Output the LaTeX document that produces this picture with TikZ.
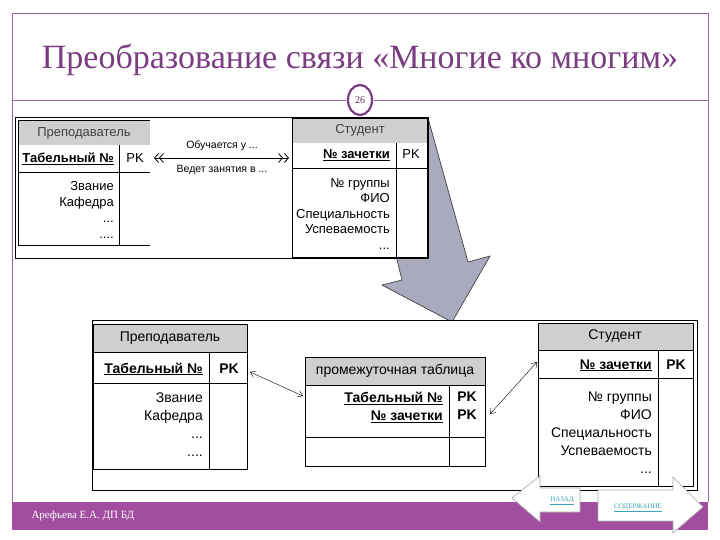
\documentclass[tikz,border=0pt]{standalone}
\usepackage{fontspec}
\setmainfont{Liberation Serif}
\newfontfamily\tabfont{Liberation Sans}
\usetikzlibrary{arrows.meta}

\definecolor{titlepurple}{HTML}{7A3D82}
\definecolor{barpurple}{HTML}{A24EA0}
\definecolor{framepurple}{HTML}{946A9A}
\definecolor{headgray}{HTML}{CFCFCF}
\definecolor{bigarrow}{HTML}{AAAABF}
\definecolor{linkcyan}{HTML}{3AA3B4}

\begin{document}
\begin{tikzpicture}[x=1pt,y=-1pt,
        smalltxt/.style={font=\tabfont\fontsize{13}{15.5}\selectfont, inner sep=0pt, align=right},
        smallkey/.style={font=\tabfont\bfseries\fontsize{13}{15.5}\selectfont, inner sep=0pt, align=right},
        bigtxt/.style={font=\tabfont\fontsize{14}{18}\selectfont, inner sep=0pt, align=right},
        bigkey/.style={font=\tabfont\bfseries\fontsize{14}{18}\selectfont, inner sep=0pt, align=right},
        tabline/.style={black, line width=0.8pt},
        link/.style={line width=0.4pt, {Straight Barb[length=5pt,width=7pt]}-{Straight Barb[length=5pt,width=7pt]}},
        navbtn/.style={fill=white, draw=black!35, line width=0.6pt}
    ]
    \useasboundingbox (0,0) rectangle (720,540);
    \fill[white] (0,0) rectangle (720,540);

    % slide frame and title
    \draw[framepurple] (12,502) -- (12,13) -- (708,13) -- (708,502);
    \draw[framepurple] (12,100) -- (346,100);
    \draw[framepurple] (374,100) -- (708,100);
    \node[font=\fontsize{34}{38}\selectfont, text=titlepurple] (title) at (360,60) {Преобразование связи «Многие ко многим»};
    \filldraw[fill=white, draw=titlepurple, line width=2.2pt] (360,100) ellipse (12 and 15);
    \node[font=\fontsize{10}{12}\selectfont, text=titlepurple!70!black] (page) at (360,100) {26};

    % footer
    \fill[barpurple] (12,502) rectangle (708,530);
    \node[anchor=west, text=white, font=\fontsize{11}{13}\selectfont] (author) at (28,516) {Арефьева Е.А. ДП БД};

    % big grey arrow, partly hidden by the top picture
    \filldraw[fill=bigarrow, draw=black!75, line width=0.7pt]
        (362,118) -- (428,118) -- (468,262) -- (490,256) -- (452,322) -- (382,285) -- (402,280) -- cycle;

    % top picture
    \filldraw[fill=white, draw=black, line width=0.8pt] (15,117) rectangle (428,258);

    \fill[headgray] (18,120) rectangle (150,145);
    \draw[tabline] (150,120) -- (18,120) -- (18,245) -- (150,245);
    \draw[tabline] (18,172) -- (150,172);
    \draw[tabline] (119,145) -- (119,245);
    \node[smalltxt, text=black!75] (prepA) at (84,133) {Преподаватель};
    \node[smallkey, anchor=base east] (tabA) at (114,163) {\underline{Табельный №}};
    \node[smalltxt, anchor=base] (pkA) at (135,163) {PK};
    \node[smalltxt, anchor=north east, font=\tabfont\fontsize{13}{16}\selectfont] (prepBodyA) at (114,181) {Звание\\Кафедра\\...\\....};

    \fill[headgray] (292,118) rectangle (427,143);
    \draw[tabline] (292,118) rectangle (427,257);
    \draw[tabline] (292,168) -- (427,168);
    \draw[tabline] (396,143) -- (396,257);
    \node[smalltxt, text=black!75] (studA) at (360,130) {Студент};
    \node[smallkey, anchor=base east] (zachA) at (390,159) {\underline{№ зачетки}};
    \node[smalltxt, anchor=base] (pkB) at (411,159) {PK};
    \node[smalltxt, anchor=north east] (studBodyA) at (390,178) {№ группы\\ФИО\\Специальность\\Успеваемость\\...};

    \coordinate (obL) at (153,158);
    \coordinate (obR) at (289,158);
    \draw[line width=0.8pt, {Straight Barb[length=4pt,width=9pt,sep=1pt]Straight Barb[length=4pt,width=9pt]}-{Straight Barb[length=4pt,width=9pt,sep=1pt]Straight Barb[length=4pt,width=9pt]}] (obL) -- (obR);
    \node[font=\tabfont\fontsize{10.5}{12}\selectfont, inner sep=0pt] (obUp) at (222,146) {Обучается у ...};
    \node[font=\tabfont\fontsize{10.5}{12}\selectfont, inner sep=0pt] (obDown) at (222,170) {Ведет занятия в ...};

    % bottom picture
    \filldraw[fill=white, draw=black, line width=0.8pt] (92,320) rectangle (697,490);

    \fill[headgray] (93,324) rectangle (247,352);
    \draw[tabline] (93,324) rectangle (247,469);
    \draw[tabline] (93,352) -- (247,352);
    \draw[tabline] (93,383) -- (247,383);
    \draw[tabline] (209,352) -- (209,469);
    \node[bigtxt] (prepB) at (170,338) {Преподаватель};
    \node[bigkey, anchor=base east] (tabB) at (203,373) {\underline{Табельный №}};
    \node[bigkey, anchor=base] (pkC) at (229,373) {PK};
    \node[bigtxt, anchor=north east] (prepBodyB) at (203,393) {Звание\\Кафедра\\...\\....};

    \fill[headgray] (305,357) rectangle (485,385);
    \draw[tabline] (305,357) rectangle (485,466);
    \draw[tabline] (305,385) -- (485,385);
    \draw[tabline] (305,437) -- (485,437);
    \draw[tabline] (449,385) -- (449,466);
    \node[bigtxt] (midB) at (395,371) {промежуточная таблица};
    \node[bigkey, anchor=north east] (midKeys) at (443,392) {\underline{Табельный №}\\\underline{№ зачетки}};
    \node[bigkey, anchor=north] (midPk) at (467,392) {PK\\PK};

    \fill[headgray] (538,323) rectangle (693,350);
    \draw[tabline] (538,323) rectangle (693,486);
    \draw[tabline] (538,350) -- (693,350);
    \draw[tabline] (538,378) -- (693,378);
    \draw[tabline] (658,350) -- (658,486);
    \node[bigtxt] (studB) at (615,336) {Студент};
    \node[bigkey, anchor=base east] (zachB) at (652,369) {\underline{№ зачетки}};
    \node[bigkey, anchor=base] (pkD) at (676,369) {PK};
    \node[bigtxt, anchor=north east] (studBodyB) at (652,392) {№ группы\\ФИО\\Специальность\\Успеваемость\\...};

    \coordinate (lnkA) at (250,372);
    \coordinate (lnkB) at (303,396);
    \coordinate (lnkC) at (490,414);
    \coordinate (lnkD) at (537,362);
    \draw[link] (lnkA) -- (lnkB);
    \draw[link] (lnkC) -- (lnkD);

    % navigation buttons
    \filldraw[navbtn] (512,498) -- (540,476) -- (540,488) -- (580,488) -- (580,512) -- (540,512) -- (540,522) -- cycle;
    \node[text=linkcyan, font=\fontsize{7}{8}\selectfont] (back) at (562,501) {\underline{НАЗАД}};
    \filldraw[navbtn] (598,490) -- (673,490) -- (673,477) -- (703,507) -- (673,533) -- (673,521) -- (598,521) -- cycle;
    \node[text=linkcyan, font=\fontsize{7}{8}\selectfont] (contents) at (638,508) {\underline{СОДЕРЖАНИЕ}};
\end{tikzpicture}
\end{document}
